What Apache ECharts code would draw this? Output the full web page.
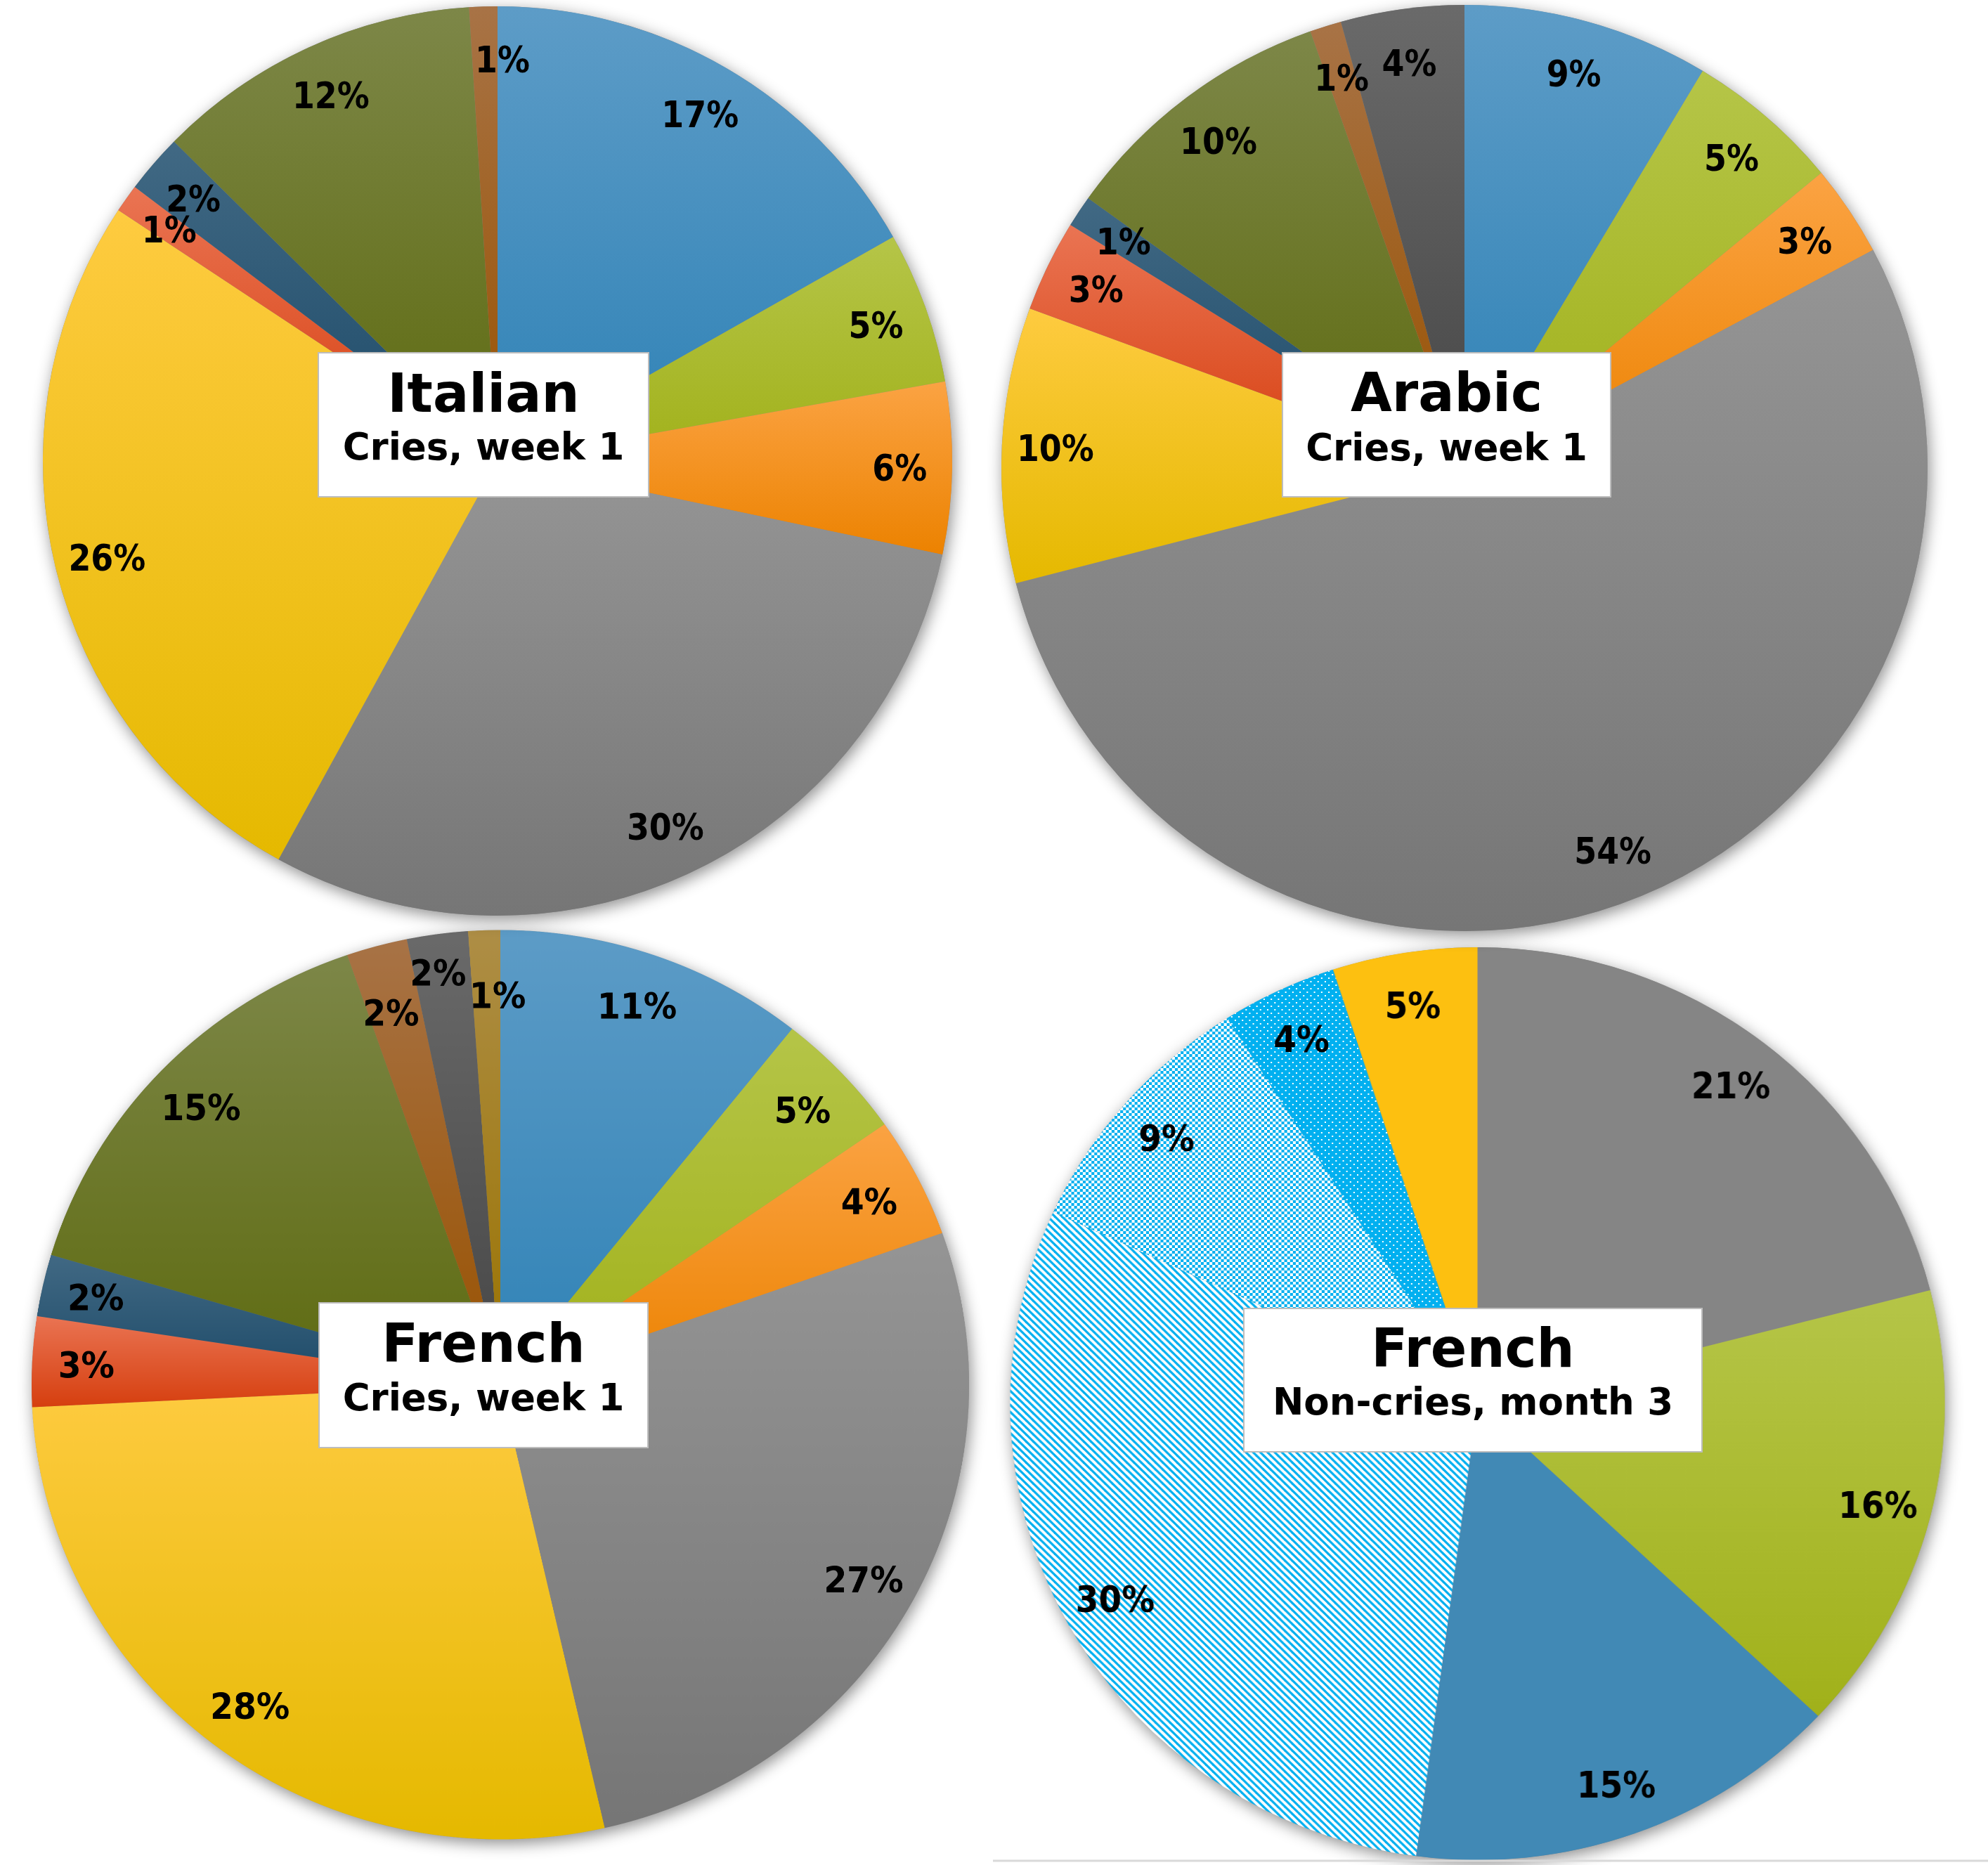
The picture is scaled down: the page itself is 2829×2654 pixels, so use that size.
<!DOCTYPE html>
<html><head><meta charset="utf-8">
<script src="https://cdn.jsdelivr.net/npm/echarts@6/dist/echarts.min.js"></script>
<style>
html,body{margin:0;padding:0;background:#fff;}
#wrap{position:relative;width:2829px;height:2654px;overflow:hidden;background:#fff;}
#main{position:absolute;left:0;top:0;width:2829px;height:2654px;z-index:3;}
#frc{position:absolute;left:0;top:1300px;width:1414px;height:1354px;z-index:1;transform-origin:712px 0;transform:scaleX(1.031);}
#frn{position:absolute;left:1414px;top:1300px;width:1415px;height:1354px;z-index:1;transform-origin:688.5px 0;transform:scaleX(1.024);}
</style></head>
<body><div id="wrap"><div id="frc"></div><div id="frn"></div><div id="main"></div></div>
<script>
// ---------- data ----------
const italianCats = ['blue','lime','orange','grey','yellow','red','navy','olive','brown'];
const italianValues = [16.8, 5.4, 6.1, 29.7, 26.3, 1.0, 2.1, 11.6, 1.0];

const arabicCats = ['blue','lime','orange','grey','yellow','red','navy','olive','brown','darkgrey'];
const arabicValues = [8.6, 5.4, 3.2, 53.8, 9.6, 3.2, 1.1, 9.7, 1.1, 4.3];

const frenchCriesCats = ['blue','lime','orange','grey','yellow','red','navy','olive','brown','darkgrey','gold'];
const frenchCriesValues = [10.7, 4.6, 4.3, 26.85, 27.8, 3.2, 2.2, 15.1, 2.1, 2.1, 1.1];

const frenchNonCriesCats = ['greyFlat','lime','blueFlat','stripes','checks','dots','yellowFlat'];
const frenchNonCriesValues = [21.0, 16.0, 15.1, 29.8, 9.1, 4.0, 5.0];

const titles = ['Italian', 'Arabic', 'French', 'French'];
const subtitles = ['Cries, week 1', 'Cries, week 1', 'Cries, week 1', 'Non-cries, month 3'];

// ---------- styles ----------
function grad(top, bottom) {
  return new echarts.graphic.LinearGradient(0, 0, 0, 1, [
    {offset: 0, color: top}, {offset: 1, color: bottom}
  ]);
}
const PB = '#00b0f0';
function makePattern(kind) {
  const c = document.createElement('canvas');
  const ctx = c.getContext('2d');
  if (kind === 'stripes') {
    c.width = 10; c.height = 10;
    ctx.fillStyle = '#fff'; ctx.fillRect(0, 0, 10, 10);
    ctx.strokeStyle = PB; ctx.lineWidth = 3.2;
    for (const k of [-10, 0, 10]) {
      ctx.beginPath(); ctx.moveTo(k - 2, -2); ctx.lineTo(k + 12, 12); ctx.stroke();
    }
  } else if (kind === 'checks') {
    c.width = 8; c.height = 8;
    ctx.fillStyle = '#fff'; ctx.fillRect(0, 0, 8, 8);
    ctx.fillStyle = PB; ctx.fillRect(0, 0, 4, 4); ctx.fillRect(4, 4, 4, 4);
  } else {
    c.width = 10; c.height = 10;
    ctx.fillStyle = PB; ctx.fillRect(0, 0, 10, 10);
    ctx.fillStyle = '#fff'; ctx.fillRect(1, 1, 2, 2); ctx.fillRect(6, 6, 2, 2);
  }
  return {image: c, repeat: 'repeat'};
}
const palette = {
  blue: grad('#5d9cc7', '#2f82b6'),
  lime: grad('#b5c548', '#a1b11a'),
  orange: grad('#fba343', '#ec8200'),
  grey: grad('#959595', '#767676'),
  yellow: grad('#fecb40', '#e5b900'),
  red: grad('#ea7453', '#d63f0f'),
  navy: grad('#416984', '#1d4a68'),
  olive: grad('#7d8748', '#5e6b10'),
  brown: grad('#a87346', '#995200'),
  darkgrey: grad('#6a6a6a', '#464646'),
  gold: grad('#ae8e46', '#9a7300'),
  greyFlat: '#858585',
  blueFlat: '#4189b5',
  yellowFlat: '#fdc010',
  stripes: makePattern('stripes'),
  checks: makePattern('checks'),
  dots: makePattern('dots')
};

const labelStyle = {
  show: true, position: 'inside',
  formatter: p => Math.round(p.percent) + '%',
  color: '#000', fontWeight: 'bold', fontSize: 51, lineHeight: 40,
  fontFamily: "'DejaVu Sans Condensed', 'DejaVu Sans', sans-serif"
};

// small label nudges (Excel-like placement of crowded labels), in px
const labelNudge = {
  italian: {brown: [25, 0]},
  frenchCries: {brown: [0, 22], darkgrey: [-9, -20], gold: [16, 17]}
};

function pieSeries(cats, vals, center, r, nudgeKey) {
  const data = cats.map((c, i) => ({name: c, value: vals[i], itemStyle: {color: palette[c]}}));
  const plain = cats.map((c, i) => ({name: c, value: vals[i]}));
  const nudges = labelNudge[nudgeKey] || {};
  const common = {type: 'pie', silent: true, center: center, startAngle: 90, clockwise: true,
    avoidLabelOverlap: false, labelLine: {show: false}, emphasis: {disabled: true}, animation: false};
  return [
    Object.assign({}, common, {radius: [0, r], z: 1, label: {show: false},
      data: [{name: 'base', value: 1, itemStyle: {color: '#888', borderWidth: 0,
        shadowBlur: 22, shadowOffsetX: 3, shadowOffsetY: 6, shadowColor: 'rgba(0,0,0,0.45)'}}]}),
    Object.assign({}, common, {radius: [0, r], z: 2, label: {show: false},
      itemStyle: {borderWidth: 0}, data: data}),
    Object.assign({}, common, {radius: [r * 0.76, r], z: 3, label: labelStyle,
      labelLayout: function (p) {
        const n = nudges[cats[p.dataIndex]] || [0, 0];
        return {dx: n[0], dy: 6 + n[1], hideOverlap: false};
      },
      itemStyle: {color: 'rgba(0,0,0,0)', borderWidth: 0}, data: plain})
  ];
}

// ---------- title boxes ----------
const boxes = [
  {x: 453, y: 502, w: 470, h: 205, cx: 688, y1: 566, y2: 640},
  {x: 1825, y: 502, w: 467, h: 205, cx: 2058.5, y1: 565, y2: 641},
  {x: 454, y: 1854, w: 468, h: 206, cx: 688, y1: 1918, y2: 1993},
  {x: 1770, y: 1862, w: 652, h: 204, cx: 2096, y1: 1925, y2: 1999}
];
const graphics = [];
boxes.forEach((b, i) => {
  graphics.push({type: 'rect', z: 100, silent: true,
    shape: {x: b.x, y: b.y, width: b.w, height: b.h},
    style: {fill: '#fff', stroke: '#bdbdbd', lineWidth: 2}});
  graphics.push({type: 'text', z: 101, silent: true, x: b.cx, y: b.y1,
    style: {text: titles[i], fill: '#000', font: "bold 76px 'DejaVu Sans', sans-serif",
      align: 'center', verticalAlign: 'middle'}});
  graphics.push({type: 'text', z: 101, silent: true, x: b.cx, y: b.y2,
    style: {text: subtitles[i], fill: '#000', font: "bold 53px 'DejaVu Sans', sans-serif",
      align: 'center', verticalAlign: 'middle'}});
});
graphics.push({type: 'line', z: 99, silent: true,
  shape: {x1: 1413, y1: 2648, x2: 2829, y2: 2648}, style: {stroke: '#d9d9d9', lineWidth: 3}});

// ---------- charts ----------
const frc = echarts.init(document.getElementById('frc'), null, {devicePixelRatio: 2});
frc.setOption({animation: false, series: pieSeries(frenchCriesCats, frenchCriesValues, [712, 670.5], 647, 'frenchCries')});

const frn = echarts.init(document.getElementById('frn'), null, {devicePixelRatio: 1});
frn.setOption({animation: false, series: pieSeries(frenchNonCriesCats, frenchNonCriesValues, [688.5, 697.5], 649.5, 'frenchNonCries')});

const main = echarts.init(document.getElementById('main'));
main.setOption({
  animation: false,
  backgroundColor: 'transparent',
  series: [].concat(
    pieSeries(italianCats, italianValues, [708, 656], 647, 'italian'),
    pieSeries(arabicCats, arabicValues, [2084, 666], 659, 'arabic')
  ),
  graphic: graphics
});
</script></body></html>
